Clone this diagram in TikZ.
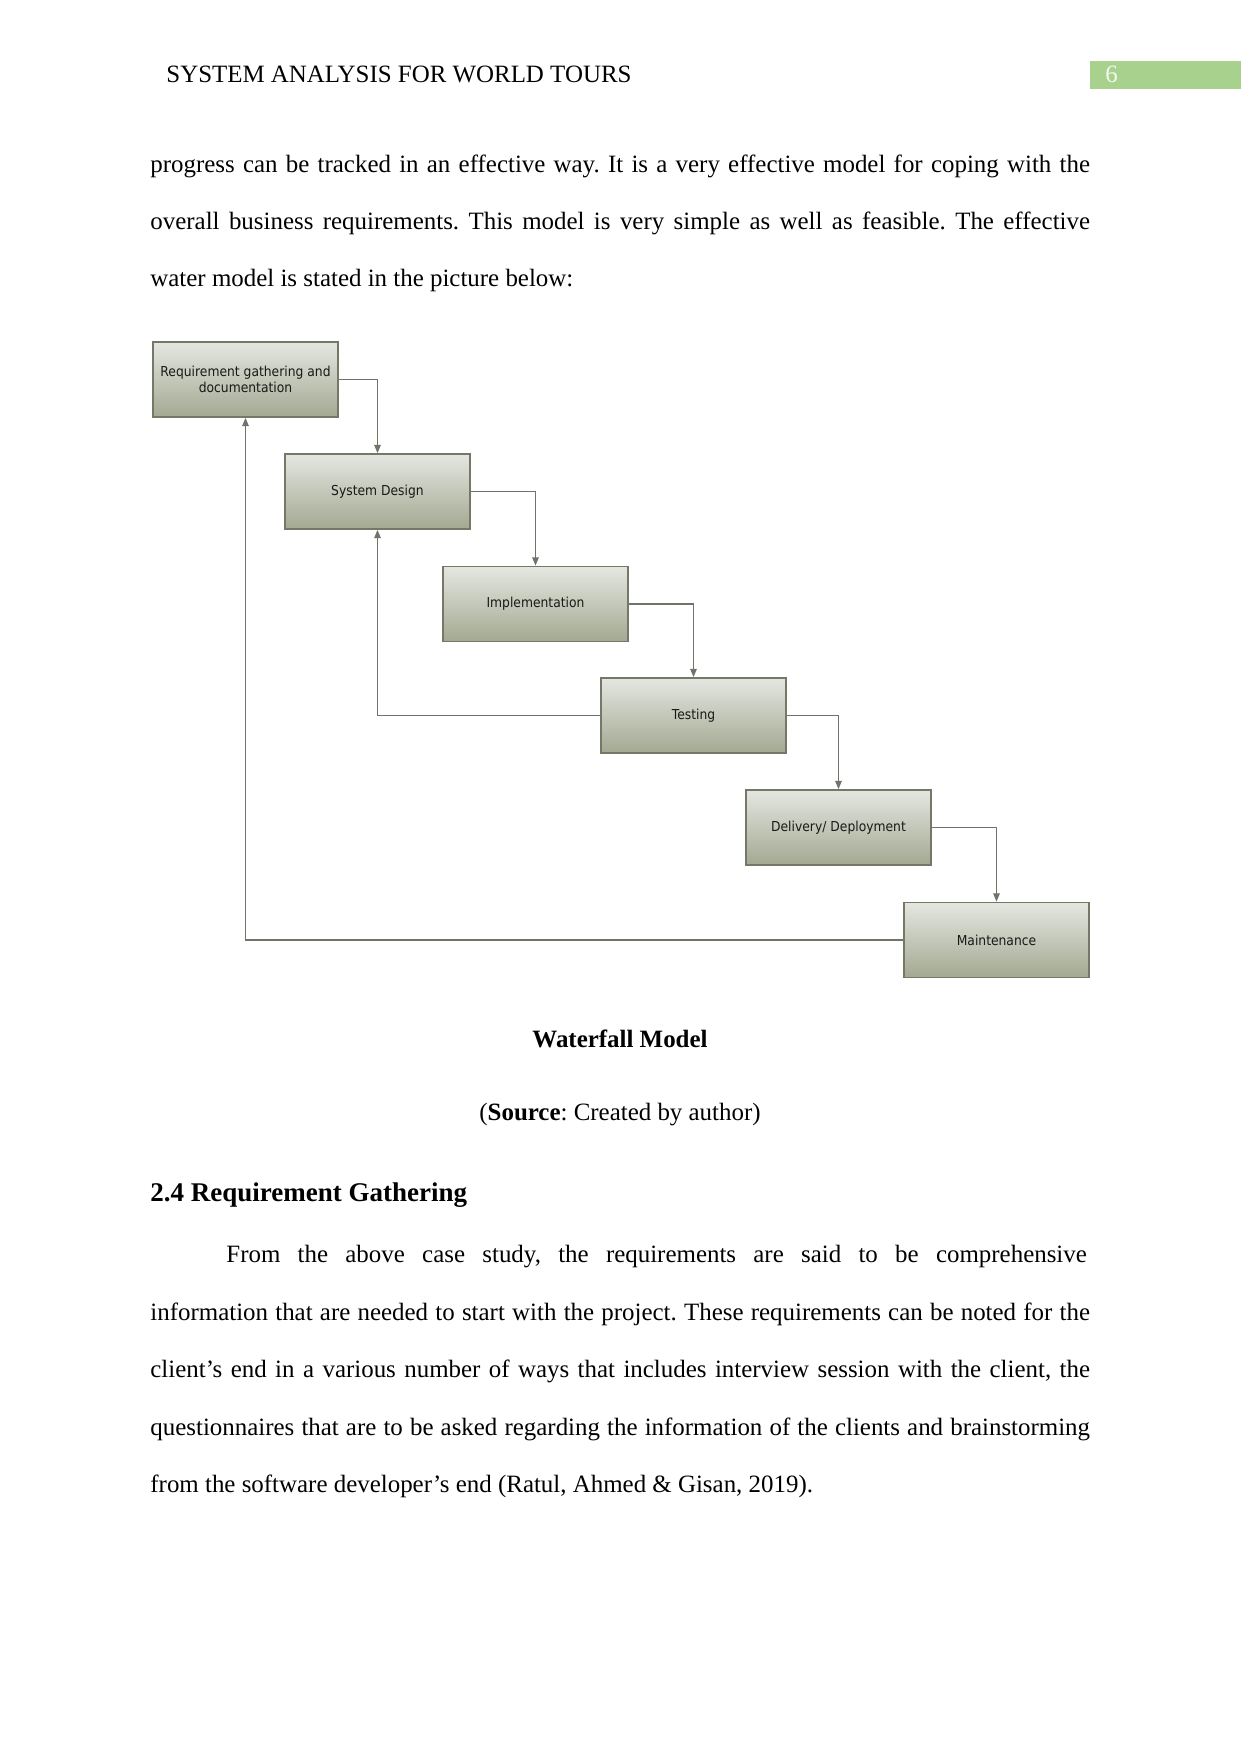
\documentclass[tikz,border=0pt]{standalone}
\usepackage{fontspec}
\setmainfont{Liberation Serif}
\newfontfamily\boxfont[FakeStretch=0.9]{DejaVu Sans}
\usepackage{xcolor}
\usetikzlibrary{arrows.meta}
\definecolor{boxtop}{HTML}{E4E7E0}
\definecolor{boxbot}{HTML}{A3A892}
\definecolor{boxline}{HTML}{737966}
\definecolor{flowline}{HTML}{6F7468}
\definecolor{pagegreen}{HTML}{A9D18E}
\frenchspacing

\begin{document}
\begin{tikzpicture}[x=0.16922mm,y=-0.16922mm,
  stage/.style={draw=boxline,line width=0.28mm,top color=boxtop,bottom color=boxbot,
    minimum width=31.3mm,minimum height=12.7mm,inner sep=1pt,align=center,
    font=\boxfont\fontsize{6.6}{7.5}\selectfont,text=black!90},
  flow/.style={draw=flowline,line width=0.2mm,-{Triangle[length=1.4mm,width=1.1mm]}},
  txt/.style={inner sep=0pt,anchor=base west,font=\fontsize{12}{14}\selectfont}]
\useasboundingbox (0,0) rectangle (1241,1754);

\node[txt] (head) at (166,83) {SYSTEM ANALYSIS FOR WORLD TOURS};
\fill[pagegreen] (1090,61) rectangle (1241,89);
\node[txt,text=white!85!pagegreen] (page) at (1105,83) {6};

\node[txt] (p1) at (150,173) {\makebox[159mm][s]{progress can be tracked in an effective way. It is a very effective model for coping with the}};
\node[txt] (p2) at (150,230) {\makebox[159mm][s]{overall business requirements. This model is very simple as well as feasible. The effective}};
\node[txt] (p3) at (150,287) {water model is stated in the picture below:};

\node[stage] (req) at (245.5,379.5) {Requirement gathering and\\documentation};
\node[stage] (des) at (377.5,491.5) {System Design};
\node[stage] (imp) at (535.5,604) {Implementation};
\node[stage] (test) at (693.5,715.5) {Testing};
\node[stage] (del) at (838.5,827.5) {Delivery/ Deployment};
\node[stage] (maint) at (996.5,940) {Maintenance};

\draw[flow] (req.east) -| (des.north);
\draw[flow] (des.east) -| (imp.north);
\draw[flow] (imp.east) -| (test.north);
\draw[flow] (test.east) -| (del.north);
\draw[flow] (del.east) -| (maint.north);
\draw[flow] (test.west) -| (des.south);
\draw[flow] (maint.west) -| (req.south);

\node[txt,anchor=base,font=\fontsize{12}{14}\selectfont\bfseries] (cap) at (620,1047) {Waterfall Model};
\node[txt,anchor=base] (src) at (620,1120) {(\textbf{Source}: Created by author)};

\node[txt,font=\fontsize{13}{15}\selectfont\bfseries] (sec) at (150,1201) {2.4 Requirement Gathering};

\node[txt] (q1) at (226,1262.5) {\makebox[145.6mm][s]{From the above case study, the requirements are said to be comprehensive}};
\node[txt] (q2) at (150,1320) {\makebox[159mm][s]{information that are needed to start with the project. These requirements can be noted for the}};
\node[txt] (q3) at (150,1377.5) {\makebox[159mm][s]{client’s end in a various number of ways that includes interview session with the client, the}};
\node[txt] (q4) at (150,1435) {\makebox[159mm][s]{questionnaires that are to be asked regarding the information of the clients and brainstorming}};
\node[txt] (q5) at (150,1492.5) {from the software developer’s end (Ratul, Ahmed \& Gisan, 2019).};
\end{tikzpicture}
\end{document}
